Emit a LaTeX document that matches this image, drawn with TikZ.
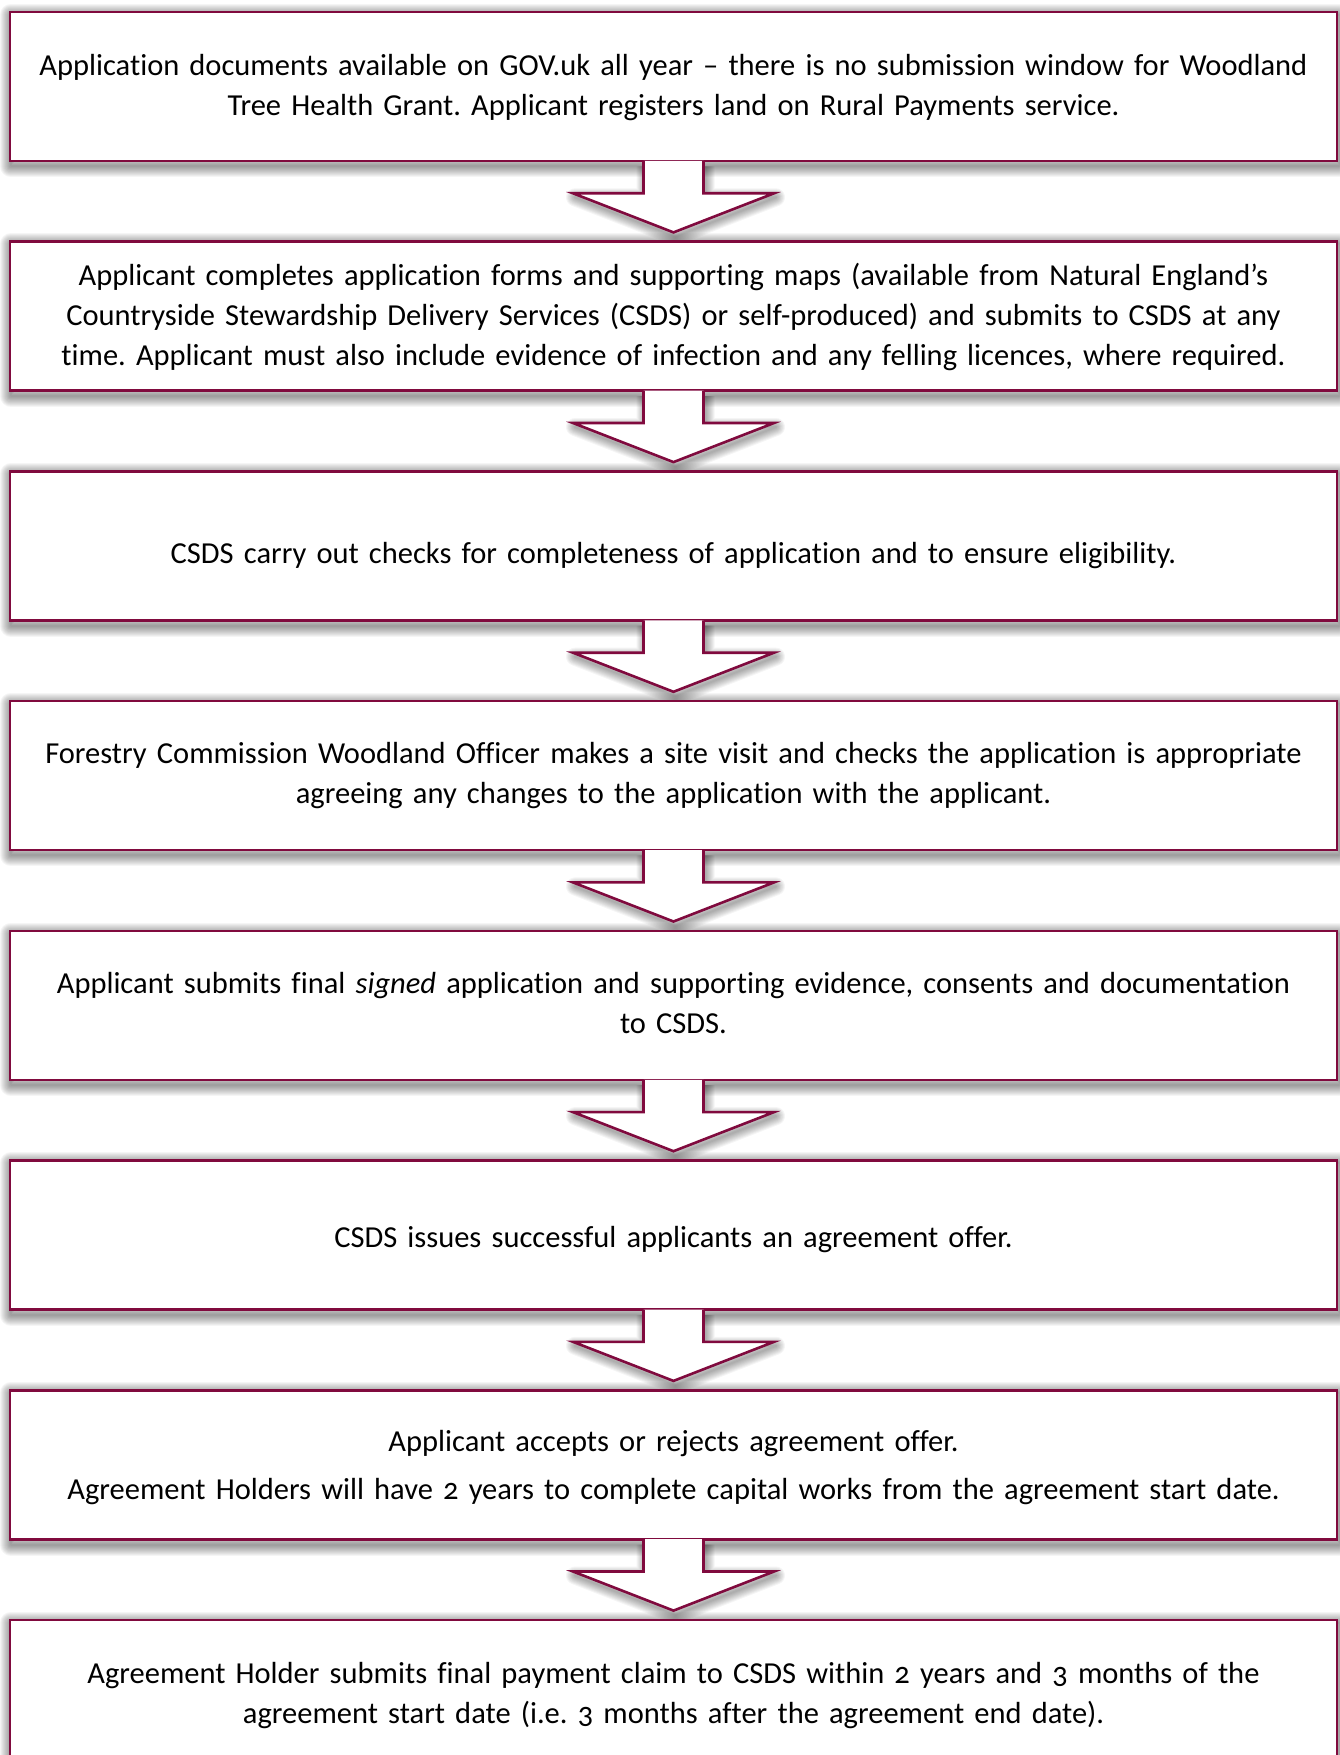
\documentclass[tikz,border=0pt]{standalone}
\usepackage{fontspec}
\setmainfont{Carlito}[Numbers=OldStyle, Ligatures=NoCommon]
\usetikzlibrary{calc}
\pgfdeclarelayer{bg}
\pgfsetlayers{bg,main}
\definecolor{maroon}{RGB}{128,10,62}
\tikzset{
  box/.style={draw=maroon, line width=2.6pt, fill=white, minimum width=1327pt,
    minimum height=149pt, align=center, text width=1320pt, inner sep=0pt,
    font=\fontsize{30.5}{40}\selectfont},
  shadowline/.style={draw=black, opacity=0.038, line join=round},
  arrowline/.style={draw=maroon, line width=2.6pt, line join=miter},
}
\newcommand\boxshadow[1]{%
  \foreach \w in {2,4,...,22}{%
    \draw[shadowline, line width=\w pt] ($(#1.south west)+(2,4)$) rectangle ($(#1.north east)+(2,4)$);
  }%
}
\newcommand\blockarrow[2]{%
  \coordinate (s-#1) at (#1.south);
  \coordinate (t-#1) at ($(#2.north)+(0,-8)$);
  \begin{pgfonlayer}{bg}
    \foreach \w in {2,4,...,18}{%
      \draw[shadowline, line width=\w pt] ($(s-#1)+(-28,4)$) -- ($(s-#1)+(-28,35)$) -- ($(s-#1)+(-98.5,35)$) -- ($(t-#1)+(2,4)$) -- ($(s-#1)+(102.5,35)$) -- ($(s-#1)+(32,35)$) -- ($(s-#1)+(32,4)$);
    }
  \end{pgfonlayer}
  \fill[white] ($(s-#1)+(-30,-1.3)$) -- ($(s-#1)+(-30,31)$) -- ($(s-#1)+(-100.5,31)$) -- (t-#1) -- ($(s-#1)+(100.5,31)$) -- ($(s-#1)+(30,31)$) -- ($(s-#1)+(30,-1.3)$) -- cycle;
  \draw[arrowline] ($(s-#1)+(-30,-1.3)$) -- ($(s-#1)+(-30,31)$) -- ($(s-#1)+(-100.5,31)$) -- (t-#1) -- ($(s-#1)+(100.5,31)$) -- ($(s-#1)+(30,31)$) -- ($(s-#1)+(30,-1.3)$);
}
\begin{document}
\frenchspacing
\begin{tikzpicture}[x=1pt, y=-1pt]
\useasboundingbox (0,0) rectangle (1339,1755);

\node[box, text height=29pt, text depth=51pt] (b1) at (673.5,86.5) {Application documents available on GOV.uk all year – there is no submission window for Woodland\\Tree Health Grant. Applicant registers land on Rural Payments service.};
\node[box, text height=9pt, text depth=71pt] (b2) at (673.5,316.2) {Applicant completes application forms and supporting maps (available from Natural England’s\\Countryside Stewardship Delivery Services (CSDS) or self-produced) and submits to CSDS at any\\time. Applicant must also include evidence of infection and any felling licences, where required.};
\node[box, text height=58pt, text depth=22pt] (b3) at (673.5,545.9) {CSDS carry out checks for completeness of application and to ensure eligibility.};
\node[box, text height=28pt, text depth=52pt] (b4) at (673.5,775.6) {Forestry Commission Woodland Officer makes a site visit and checks the application is appropriate\\agreeing any changes to the application with the applicant.};
\node[box, text height=28pt, text depth=52pt] (b5) at (673.5,1005.3) {Applicant submits final \textit{signed} application and supporting evidence, consents and documentation\\to CSDS.};
\node[box, text height=52.5pt, text depth=27.5pt] (b6) at (673.5,1235) {CSDS issues successful applicants an agreement offer.};
\node[box, text height=26.5pt, text depth=53.5pt] (b7) at (673.5,1464.7) {Applicant accepts or rejects agreement offer.\\[8pt]Agreement Holders will have 2 years to complete capital works from the agreement start date.};
\node[box, text height=29.5pt, text depth=50.5pt] (b8) at (673.5,1694.4) {Agreement Holder submits final payment claim to CSDS within 2 years and 3 months of the\\agreement start date (i.e. 3 months after the agreement end date).};

\begin{pgfonlayer}{bg}
\fill[white] (0,0) rectangle (1339,1755);
\foreach \b in {b1,b2,b3,b4,b5,b6,b7,b8}{\boxshadow{\b}}
\end{pgfonlayer}

\blockarrow{b1}{b2}
\blockarrow{b2}{b3}
\blockarrow{b3}{b4}
\blockarrow{b4}{b5}
\blockarrow{b5}{b6}
\blockarrow{b6}{b7}
\blockarrow{b7}{b8}
\end{tikzpicture}
\end{document}
